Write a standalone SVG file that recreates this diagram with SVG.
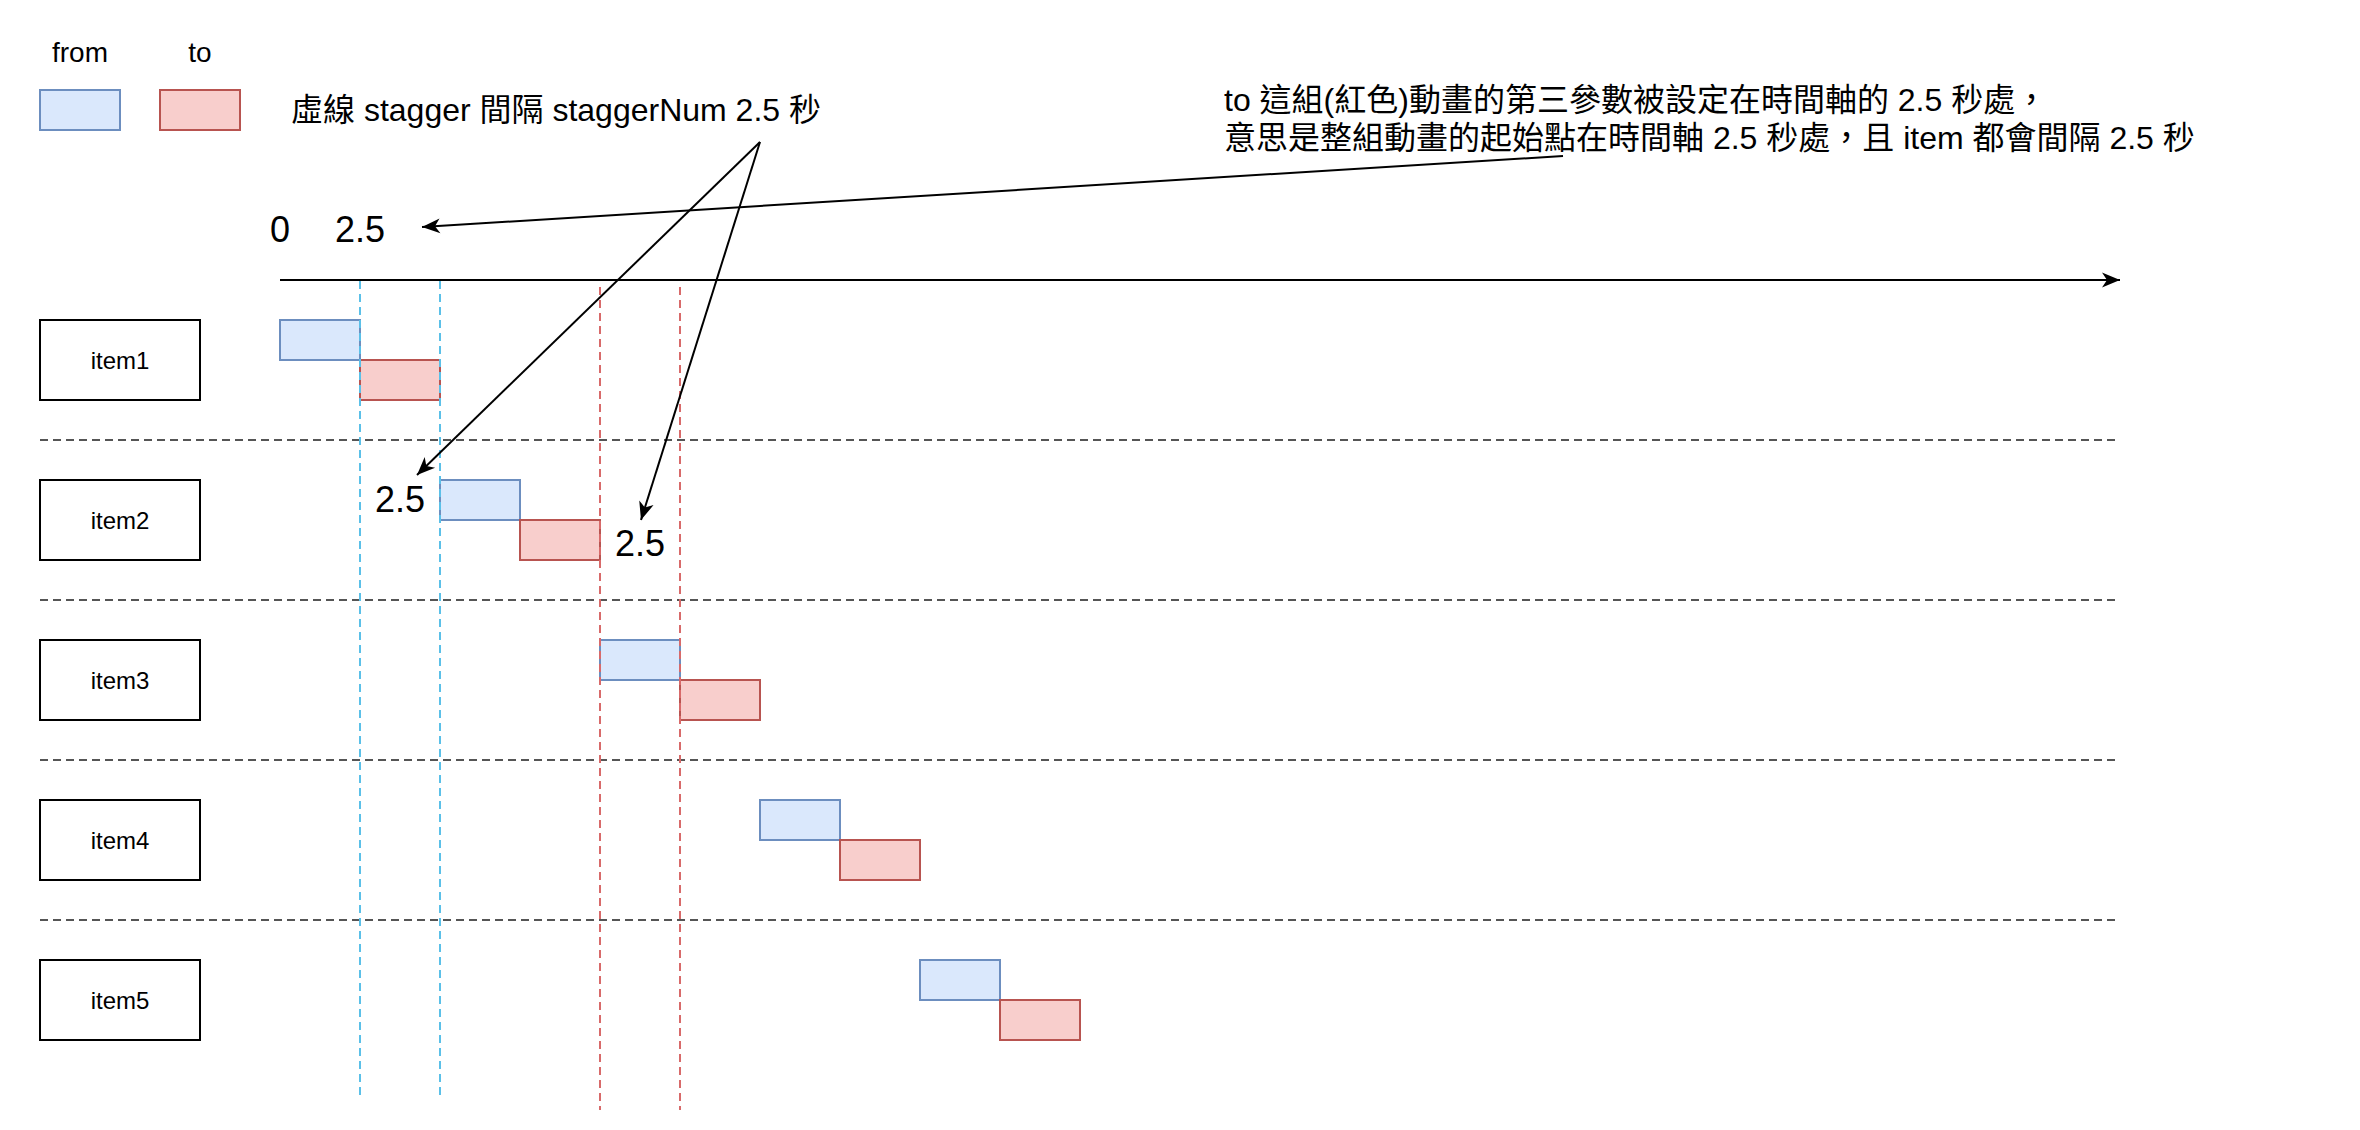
<svg xmlns="http://www.w3.org/2000/svg" width="2360" height="1130" viewBox="0 0 2360 1130" xml:lang="zh-TW">
<style>
text{font-family:"Liberation Sans","Noto Sans CJK TC",sans-serif;fill:#000}
.t14{font-size:28px;text-anchor:middle}
.t16{font-size:32px}
.t18{font-size:36px;text-anchor:middle}
.t12{font-size:24px;text-anchor:middle}
.from{fill:#dae8fc;stroke:#6c8ebf;stroke-width:2}
.to{fill:#f8cecc;stroke:#b85450;stroke-width:2}
.item{fill:#fff;stroke:#000;stroke-width:2}
.lane{stroke:#555;stroke-width:2;stroke-dasharray:8 5;fill:none}
.vb{stroke:#5bc0e8;stroke-width:2;stroke-dasharray:8 5;fill:none}
.vr{stroke:#d86a6a;stroke-width:2;stroke-dasharray:8 5;fill:none}
.arr{stroke:#000;stroke-width:2;fill:none;marker-end:url(#ah)}
</style>
<defs>
<marker id="ah" markerUnits="userSpaceOnUse" markerWidth="24" markerHeight="20" viewBox="-20 -10 24 20" refX="0" refY="0" orient="auto">
<path d="M0,0 L-18,-7.5 L-13,0 L-18,7.5 Z" fill="#000"/>
</marker>
</defs>
<rect width="2360" height="1130" fill="#fff"/>

<g id="legend">
<text class="t14" x="80" y="62">from</text>
<text class="t14" x="200" y="62">to</text>
<rect class="from" x="40" y="90" width="80" height="40"/>
<rect class="to" x="160" y="90" width="80" height="40"/>
<text class="t16" x="291" y="121" xml:lang="zh-TW">虛線 stagger 間隔 staggerNum 2.5 秒</text>
</g>

<g id="annotation">
<text class="t16" x="1224" y="111" xml:lang="zh-TW">to 這組(紅色)動畫的第三參數被設定在時間軸的 2.5 秒處，</text>
<text class="t16" x="1224" y="149" xml:lang="zh-TW">意思是整組動畫的起始點在時間軸 2.5 秒處，且 item 都會間隔 2.5 秒</text>
</g>

<g id="time-labels">
<text class="t18" x="280" y="242">0</text>
<text class="t18" x="360" y="242">2.5</text>
<text class="t18" x="400" y="512">2.5</text>
<text class="t18" x="640" y="556">2.5</text>
</g>

<g id="lanes">
<line class="lane" x1="40" y1="440" x2="2120" y2="440"/>
<line class="lane" x1="40" y1="600" x2="2120" y2="600"/>
<line class="lane" x1="40" y1="760" x2="2120" y2="760"/>
<line class="lane" x1="40" y1="920" x2="2120" y2="920"/>
</g>

<g id="item1"><rect class="item" x="40" y="320" width="160" height="80"/><text class="t12" x="120" y="368.5">item1</text></g>
<g id="item2"><rect class="item" x="40" y="480" width="160" height="80"/><text class="t12" x="120" y="528.5">item2</text></g>
<g id="item3"><rect class="item" x="40" y="640" width="160" height="80"/><text class="t12" x="120" y="688.5">item3</text></g>
<g id="item4"><rect class="item" x="40" y="800" width="160" height="80"/><text class="t12" x="120" y="848.5">item4</text></g>
<g id="item5"><rect class="item" x="40" y="960" width="160" height="80"/><text class="t12" x="120" y="1008.5">item5</text></g>

<g id="blocks">
<rect class="from" x="280" y="320" width="80" height="40"/>
<rect class="to" x="360" y="360" width="80" height="40"/>
<rect class="from" x="440" y="480" width="80" height="40"/>
<rect class="to" x="520" y="520" width="80" height="40"/>
<rect class="from" x="600" y="640" width="80" height="40"/>
<rect class="to" x="680" y="680" width="80" height="40"/>
<rect class="from" x="760" y="800" width="80" height="40"/>
<rect class="to" x="840" y="840" width="80" height="40"/>
<rect class="from" x="920" y="960" width="80" height="40"/>
<rect class="to" x="1000" y="1000" width="80" height="40"/>
</g>

<g id="guides">
<line class="vb" x1="360" y1="281" x2="360" y2="1100"/>
<line class="vb" x1="440" y1="281" x2="440" y2="1100"/>
<line class="vr" x1="600" y1="287" x2="600" y2="1110"/>
<line class="vr" x1="680" y1="287" x2="680" y2="1110"/>
</g>

<g id="connectors">
<line class="arr" x1="280" y1="280" x2="2120" y2="280"/>
<line class="arr" x1="1563" y1="156" x2="422" y2="227"/>
<line class="arr" x1="760" y1="142" x2="417" y2="475"/>
<line class="arr" x1="760" y1="142" x2="641" y2="520"/>
</g>
</svg>
